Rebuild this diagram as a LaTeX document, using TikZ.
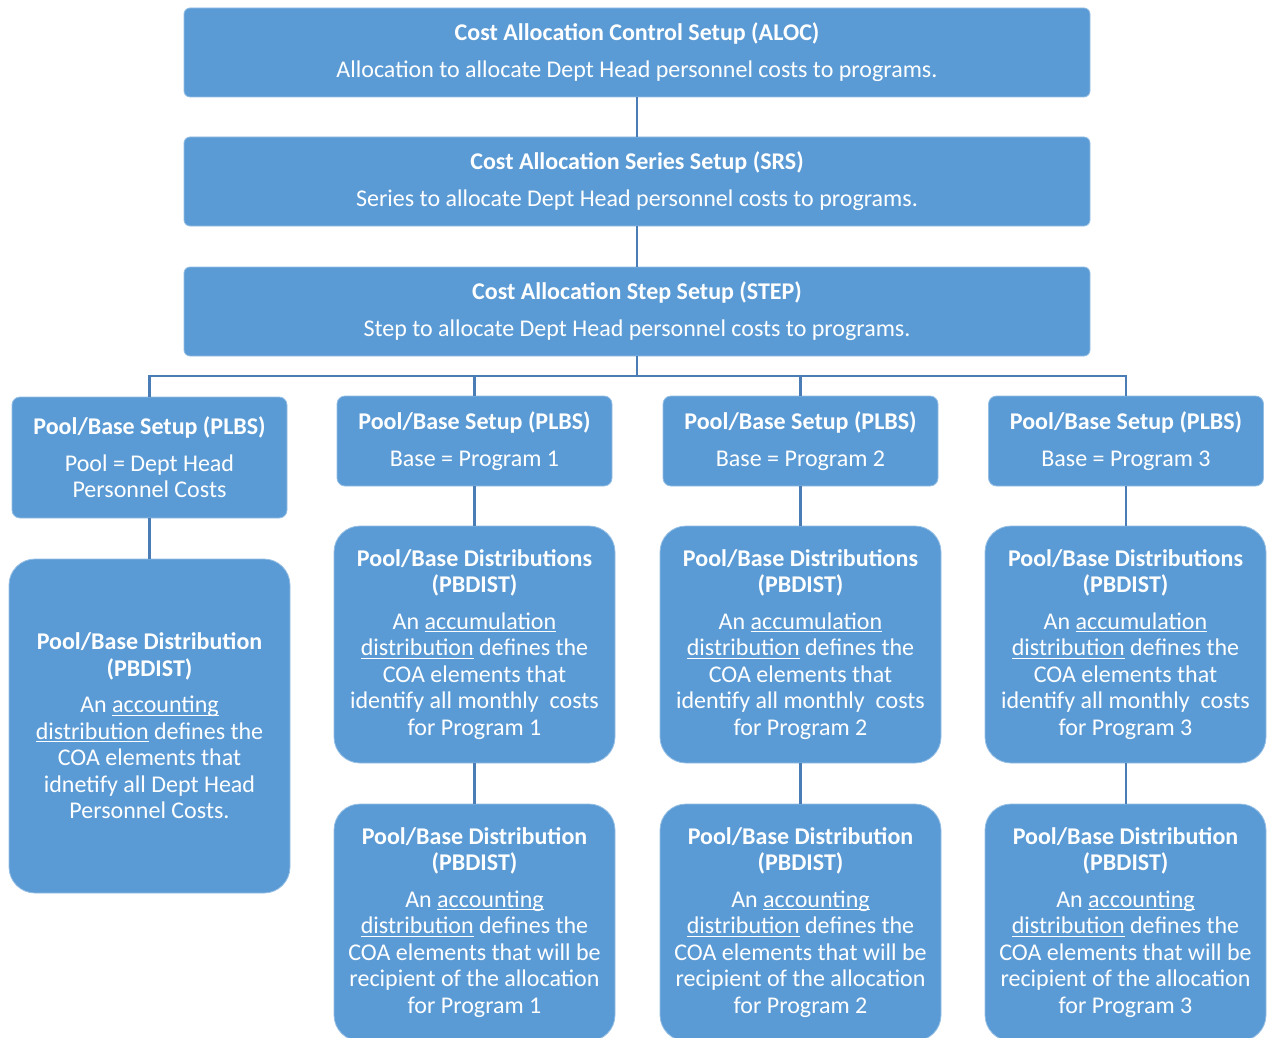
\documentclass[tikz,border=0pt]{standalone}
\usepackage{fontspec}
\setmainfont{Carlito}
\definecolor{boxblue}{HTML}{5B9BD5}
\definecolor{linkblue}{HTML}{4A7DB5}
\newcommand\myul[1]{\setbox0\hbox{#1}\rlap{\rule[-3pt]{\wd0}{1.3pt}}\box0\relax}
\tikzset{
  basebox/.style={rectangle, fill=boxblue, draw=white!35!boxblue, line width=0.8pt,
    text=white, align=center, inner sep=0pt, font=\fontsize{24}{26.5}\selectfont},
  widebox/.style={basebox, rounded corners=6pt, minimum width=906pt, minimum height=89pt},
  setupbox/.style={basebox, rounded corners=8pt, minimum width=275pt},
  distbox/.style={basebox, rounded corners=26pt, minimum width=281pt},
  link/.style={draw=linkblue, line width=2.6pt}
}
\begin{document}
\begin{tikzpicture}[x=1pt,y=-1pt]
\useasboundingbox (0,0) rectangle (1267,1038);
% top chain
\node[widebox] (aloc) at (637,52.5) {\textbf{Cost Allocation Control Setup (ALOC)}\\[10.5pt]Allocation to allocate Dept Head personnel costs to programs.};
\node[widebox] (srs) at (637,181.5) {\textbf{Cost Allocation Series Setup (SRS)}\\[10.5pt]Series to allocate Dept Head personnel costs to programs.};
\node[widebox] (stp) at (637,311.5) {\textbf{Cost Allocation Step Setup (STEP)}\\[10.5pt]Step to allocate Dept Head personnel costs to programs.};
% PLBS row
\node[setupbox, minimum height=121pt] (plbs1) at (149.5,457.5) {\textbf{Pool/Base Setup (PLBS)}\\[10pt]Pool = Dept Head\\Personnel Costs};
\node[setupbox, minimum height=90pt] (plbs2) at (474.5,441) {\textbf{Pool/Base Setup (PLBS)}\\[10pt]Base = Program 1};
\node[setupbox, minimum height=90pt] (plbs3) at (800.5,441) {\textbf{Pool/Base Setup (PLBS)}\\[10pt]Base = Program 2};
\node[setupbox, minimum height=90pt] (plbs4) at (1126,441) {\textbf{Pool/Base Setup (PLBS)}\\[10pt]Base = Program 3};
% Pool distribution
\node[distbox, minimum height=334pt] (pool) at (149.5,726) {\textbf{Pool/Base Distribution}\\\textbf{(PBDIST)}\\[10pt]An \myul{accounting}\\\myul{distribution} defines the\\COA elements that\\idnetify all Dept Head\\Personnel Costs.};
% accumulation distributions
\node[distbox, minimum height=237pt] (accu1) at (474.5,644.5) {\textbf{Pool/Base Distributions}\\\textbf{(PBDIST)}\\[10pt]An \myul{accumulation}\\\myul{distribution} defines the\\COA elements that\\identify all monthly\ \ costs\\for Program 1};
\node[distbox, minimum height=237pt] (accu2) at (800.5,644.5) {\textbf{Pool/Base Distributions}\\\textbf{(PBDIST)}\\[10pt]An \myul{accumulation}\\\myul{distribution} defines the\\COA elements that\\identify all monthly\ \ costs\\for Program 2};
\node[distbox, minimum height=237pt] (accu3) at (1125.5,644.5) {\textbf{Pool/Base Distributions}\\\textbf{(PBDIST)}\\[10pt]An \myul{accumulation}\\\myul{distribution} defines the\\COA elements that\\identify all monthly\ \ costs\\for Program 3};
% accounting distributions
\node[distbox, minimum height=237pt] (acct1) at (474.5,922.5) {\textbf{Pool/Base Distribution}\\\textbf{(PBDIST)}\\[10pt]An \myul{accounting}\\\myul{distribution} defines the\\COA elements that will be\\recipient of the allocation\\for Program 1};
\node[distbox, minimum height=237pt] (acct2) at (800.5,922.5) {\textbf{Pool/Base Distribution}\\\textbf{(PBDIST)}\\[10pt]An \myul{accounting}\\\myul{distribution} defines the\\COA elements that will be\\recipient of the allocation\\for Program 2};
\node[distbox, minimum height=237pt] (acct3) at (1125.5,922.5) {\textbf{Pool/Base Distribution}\\\textbf{(PBDIST)}\\[10pt]An \myul{accounting}\\\myul{distribution} defines the\\COA elements that will be\\recipient of the allocation\\for Program 3};
% connectors
\coordinate (bus) at (637,376);
\draw[link] (aloc.south) -- (srs.north);
\draw[link] (srs.south) -- (stp.north);
\draw[link] (stp.south) -- (bus);
\draw[link] (plbs1.north) |- (bus);
\draw[link] (plbs2.north) |- (bus);
\draw[link] (plbs3.north) |- (bus);
\draw[link] (plbs4.north) |- (bus);
\draw[link] (plbs1.south) -- (pool.north);
\draw[link] (plbs2.south) -- (accu1.north -| plbs2.south);
\draw[link] (plbs3.south) -- (accu2.north -| plbs3.south);
\draw[link] (plbs4.south) -- (accu3.north -| plbs4.south);
\draw[link] (accu1.south -| plbs2.south) -- (acct1.north -| plbs2.south);
\draw[link] (accu2.south -| plbs3.south) -- (acct2.north -| plbs3.south);
\draw[link] (accu3.south -| plbs4.south) -- (acct3.north -| plbs4.south);
\end{tikzpicture}
\end{document}
